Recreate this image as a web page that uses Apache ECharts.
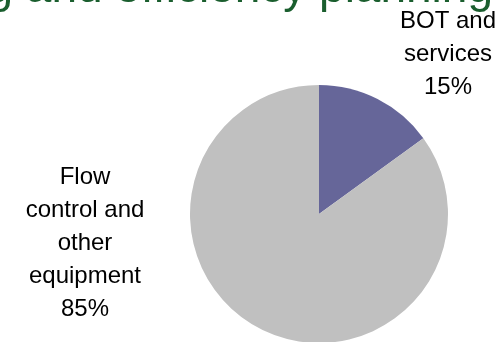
<!DOCTYPE html>
<html>
<head>
<meta charset="utf-8">
<script src="https://cdn.jsdelivr.net/npm/echarts@6/dist/echarts.min.js"></script>
<style>html,body{margin:0;padding:0;background:#fff;}#c{width:500px;height:342px;}</style>
</head>
<body>
<div id="c"></div>
<script>
const categories = ['BOT and\nservices', 'Flow\ncontrol and\nother\nequipment'];
const values = [15, 85];
const colors = ['#666699', '#c0c0c0'];
const titleText = 'Metering and efficiency planning';

const chart = echarts.init(document.getElementById('c'), null, {renderer: 'canvas'});
const labelPos = [{x: 448, y: 54}, {x: 85, y: 243}];
chart.setOption({
  animation: false,
  graphic: [{
    type: 'text',
    right: 7,
    top: -34,
    style: {
      text: titleText,
      fill: '#1a5e2e',
      font: '46px "Liberation Sans", Arial, sans-serif'
    }
  }],
  series: [{
    type: 'pie',
    center: [319, 214],
    radius: 129,
    startAngle: 90,
    clockwise: true,
    data: categories.map((c, i) => ({name: c, value: values[i], itemStyle: {color: colors[i]}})),
    label: {
      show: true,
      formatter: '{b}\n{d}%',
      color: '#000',
      fontFamily: '"Liberation Sans", Arial, sans-serif',
      fontSize: 24,
      lineHeight: 33,
      align: 'center',
      overflow: 'none'
    },
    labelLine: {show: false},
    labelLayout: function (p) {
      const pos = labelPos[p.dataIndex];
      return {x: pos.x, y: pos.y, align: 'center', verticalAlign: 'middle'};
    },
    emphasis: {disabled: true}
  }]
});
</script>
</body>
</html>
